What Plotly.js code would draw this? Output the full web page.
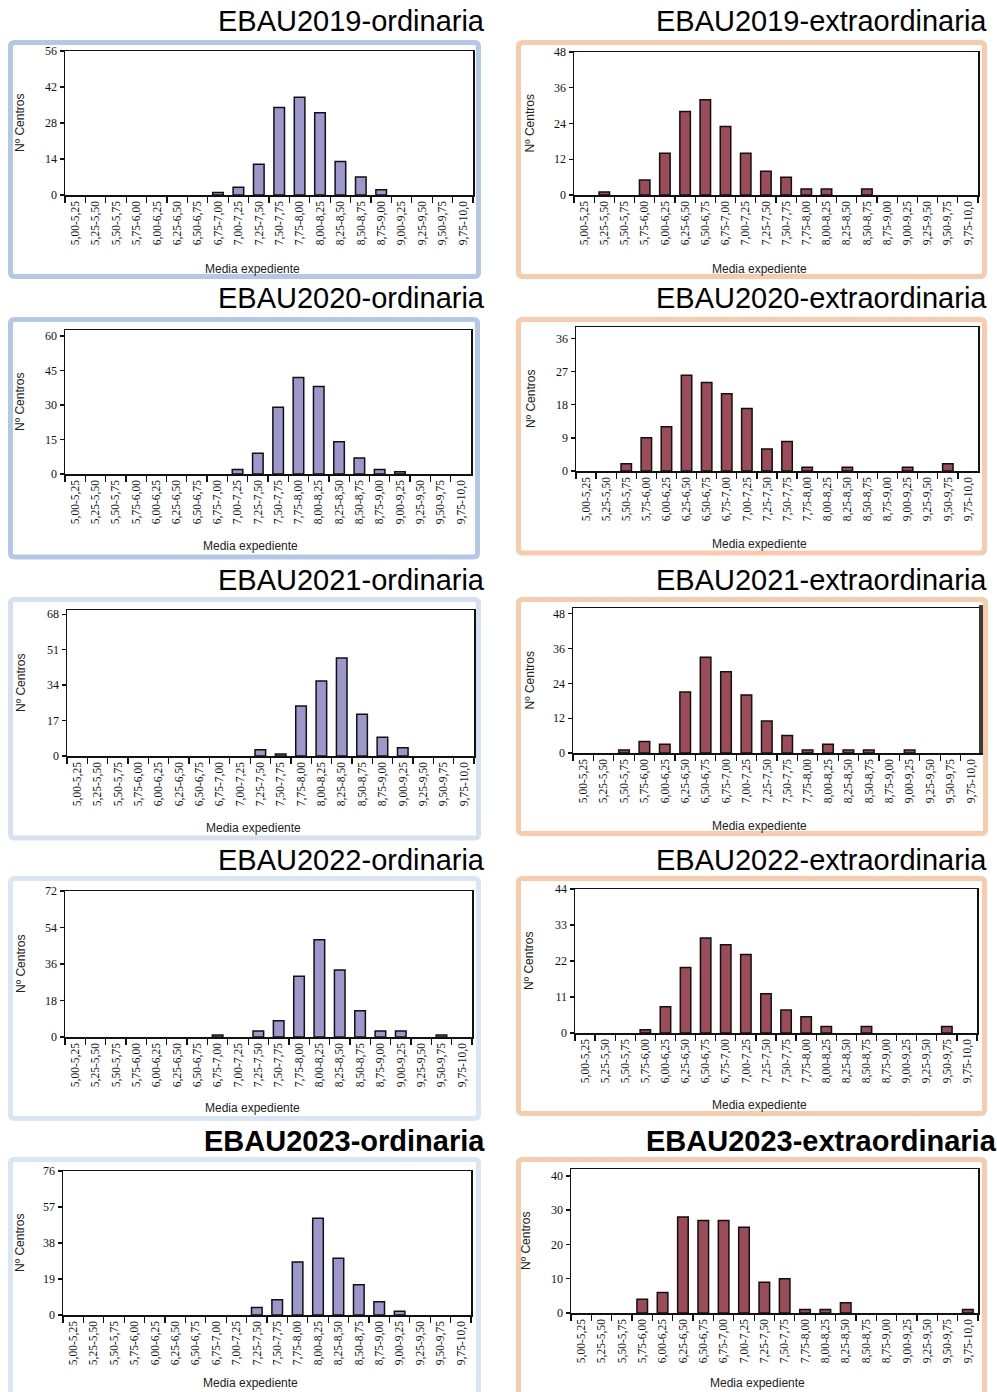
<!DOCTYPE html>
<html><head><meta charset="utf-8">
<script src="https://cdn.plot.ly/plotly-3.0.1.min.js"></script>
<style>html,body{margin:0;padding:0;background:#fff}#chart{width:997px;height:1392px}</style>
</head><body><div id="chart"></div>
<script>
// ---------- DATA ----------
const categories = ["5,00-5,25","5,25-5,50","5,50-5,75","5,75-6,00","6,00-6,25","6,25-6,50","6,50-6,75","6,75-7,00","7,00-7,25","7,25-7,50","7,50-7,75","7,75-8,00","8,00-8,25","8,25-8,50","8,50-8,75","8,75-9,00","9,00-9,25","9,25-9,50","9,50-9,75","9,75-10,0"];
const ord2019 = [0,0,0,0,0,0,0,1,3,12,34,38,32,13,7,2,0,0,0,0];
const ext2019 = [0,1,0,5,14,28,32,23,14,8,6,2,2,0,2,0,0,0,0,0];
const ord2020 = [0,0,0,0,0,0,0,0,2,9,29,42,38,14,7,2,1,0,0,0];
const ext2020 = [0,0,2,9,12,26,24,21,17,6,8,1,0,1,0,0,1,0,2,0];
const ord2021 = [0,0,0,0,0,0,0,0,0,3,1,24,36,47,20,9,4,0,0,0];
const ext2021 = [0,0,1,4,3,21,33,28,20,11,6,1,3,1,1,0,1,0,0,0];
const ord2022 = [0,0,0,0,0,0,0,1,0,3,8,30,48,33,13,3,3,0,1,0];
const ext2022 = [0,0,0,1,8,20,29,27,24,12,7,5,2,0,2,0,0,0,2,0];
const ord2023 = [0,0,0,0,0,0,0,0,0,4,8,28,51,30,16,7,2,0,0,0];
const ext2023 = [0,0,0,4,6,28,27,27,25,9,10,1,1,3,0,0,0,0,0,1];
const seriesList = [ord2019, ext2019, ord2020, ext2020, ord2021, ext2021, ord2022, ext2022, ord2023, ext2023];
const panelTitles = ["EBAU2019-ordinaria","EBAU2019-extraordinaria","EBAU2020-ordinaria","EBAU2020-extraordinaria","EBAU2021-ordinaria","EBAU2021-extraordinaria","EBAU2022-ordinaria","EBAU2022-extraordinaria","EBAU2023-ordinaria","EBAU2023-extraordinaria"];
const yTickVals = [[0,14,28,42,56],[0,12,24,36,48],[0,15,30,45,60],[0,9,18,27,36],[0,17,34,51,68],[0,12,24,36,48],[0,18,36,54,72],[0,11,22,33,44],[0,19,38,57,76],[0,10,20,30,40]];
const yRangeMax = [56,48,62.6,39.1,70,50,72,44,76,42];
const yAxisTitle = "Nº Centros";
const xAxisTitle = "Media expediente";

// ---------- LAYOUT (pixels) ----------
const W = 997, H = 1392;
const plotBoxes = [ // [left, right, top, bottom]
  [65,473,51,195],[574,978,52,195],
  [65,471,330,474],[576,978,327,471],
  [67,474,610,756],[573,981,608,753],
  [65,472,891,1037],[575,977,889,1033],
  [63,471,1171,1315],[571,978,1169,1313]
];
const frames = [ // [x0,y0,x1,y1,color]
  [10.5,42.5,478.5,276.5,"#b4c7e7"],[518.5,42.5,984.5,276.5,"#f8cbad"],
  [10.5,319.5,477.5,557,"#b4c7e7"],[518.5,319.5,984.5,553,"#f8cbad"],
  [10.5,599.5,478.5,838,"#d6e0f1"],[518.5,599.5,985.5,833.5,"#f8cbad"],
  [10.5,878.5,478.5,1118.5,"#dae6f4"],[518.5,878.5,984.5,1113.5,"#f8cbad"],
  [10.5,1159.5,478.5,1400,"#dae6f4"],[518.5,1159.5,984.5,1400,"#f8cbad"]
];
const titlePos = [[487,21],[989,21],[487,298],[989,298],[487,580],[989,580],[487,860],[989,860],[487,1141],[999,1141]];
const yTitleX = [20,529,20,531,21,529,21,529,20,526];
const xTitlePos = [[252,269],[759,269],[250,546],[759,544],[254,828],[759,826],[252,1108],[759,1105],[250,1383],[757,1383]];

const ordColor = "#9d98cc", extColor = "#9c4b59";
const px = v => v / W, py = v => 1 - v / H;

const data = [];
const layout = {
  width: W, height: H, margin: {l:0, r:0, t:0, b:0},
  paper_bgcolor: "#fff", plot_bgcolor: "#fff",
  showlegend: false, bargap: 0.48,
  annotations: [], shapes: []
};

seriesList.forEach((vals, i) => {
  const n = i === 0 ? "" : String(i + 1);
  const [L, R, T, B] = plotBoxes[i];
  data.push({
    type: "bar", x: categories, y: vals,
    xaxis: "x" + n, yaxis: "y" + n,
    marker: {color: i % 2 === 0 ? ordColor : extColor,
             line: {color: "#111", width: vals.map(v => v > 0 ? 1.5 : 0)}},
    hoverinfo: "x+y"
  });
  layout["xaxis" + n] = {
    domain: [px(L), px(R)], anchor: "y" + n, type: "category",
    range: [-0.5, categories.length - 0.5],
    tickson: "boundaries", ticks: "outside", ticklen: 6, tickwidth: 1.3, tickcolor: "#111",
    tickangle: -90, tickfont: {family: "Liberation Serif", size: 11.5, color: "#111"},
    showline: true, mirror: true, linecolor: "#111", linewidth: 1.5,
    showgrid: false, zeroline: false, fixedrange: true
  };
  layout["yaxis" + n] = {
    domain: [py(B), py(T)], anchor: "x" + n,
    range: [0, yRangeMax[i]], tickvals: yTickVals[i],
    ticks: "outside", ticklen: 4, tickwidth: 1.3, tickcolor: "#111",
    tickfont: {family: "Liberation Serif", size: 12, color: "#111"},
    showline: true, mirror: true, linecolor: "#111", linewidth: 1.5,
    showgrid: false, zeroline: false, fixedrange: true
  };
  // frame
  const [x0, y0, x1, y1, col] = frames[i];
  const r = 4;
  const path = `M ${px(x0 + r)} ${py(y0)} L ${px(x1 - r)} ${py(y0)} Q ${px(x1)} ${py(y0)} ${px(x1)} ${py(y0 + r)} ` +
               `L ${px(x1)} ${py(y1 - r)} Q ${px(x1)} ${py(y1)} ${px(x1 - r)} ${py(y1)} ` +
               `L ${px(x0 + r)} ${py(y1)} Q ${px(x0)} ${py(y1)} ${px(x0)} ${py(y1 - r)} ` +
               `L ${px(x0)} ${py(y0 + r)} Q ${px(x0)} ${py(y0)} ${px(x0 + r)} ${py(y0)} Z`;
  layout.shapes.push({type: "path", xref: "paper", yref: "paper", path: path, line: {color: col, width: 5}, fillcolor: "rgba(0,0,0,0)"});
  // titles
  const bold = i >= 8;
  layout.annotations.push({
    text: bold ? "<b>" + panelTitles[i] + "</b>" : panelTitles[i],
    xref: "paper", yref: "paper", x: px(titlePos[i][0]), y: py(titlePos[i][1]),
    xanchor: "right", yanchor: "middle", showarrow: false,
    font: {family: "Liberation Sans", size: 29, color: "#000"}
  });
  layout.annotations.push({
    text: yAxisTitle, xref: "paper", yref: "paper",
    x: px(yTitleX[i]), y: py((T + B) / 2), xanchor: "center", yanchor: "middle",
    textangle: -90, showarrow: false,
    font: {family: "Liberation Sans", size: 12, color: "#222"}
  });
  layout.annotations.push({
    text: xAxisTitle, xref: "paper", yref: "paper",
    x: px(xTitlePos[i][0]), y: py(xTitlePos[i][1]), xanchor: "center", yanchor: "middle",
    showarrow: false, font: {family: "Liberation Sans", size: 12, color: "#222"}
  });
});
// thick dark right edge seen on the 2021-extraordinaria panel
layout.shapes.push({type: "line", xref: "x6 domain", yref: "y6 domain", x0: 1, x1: 1, y0: 0, y1: 1.02, line: {color: "#3a3a3a", width: 4}});

Plotly.newPlot("chart", data, layout, {staticPlot: true, displayModeBar: false});
</script>
</body></html>
